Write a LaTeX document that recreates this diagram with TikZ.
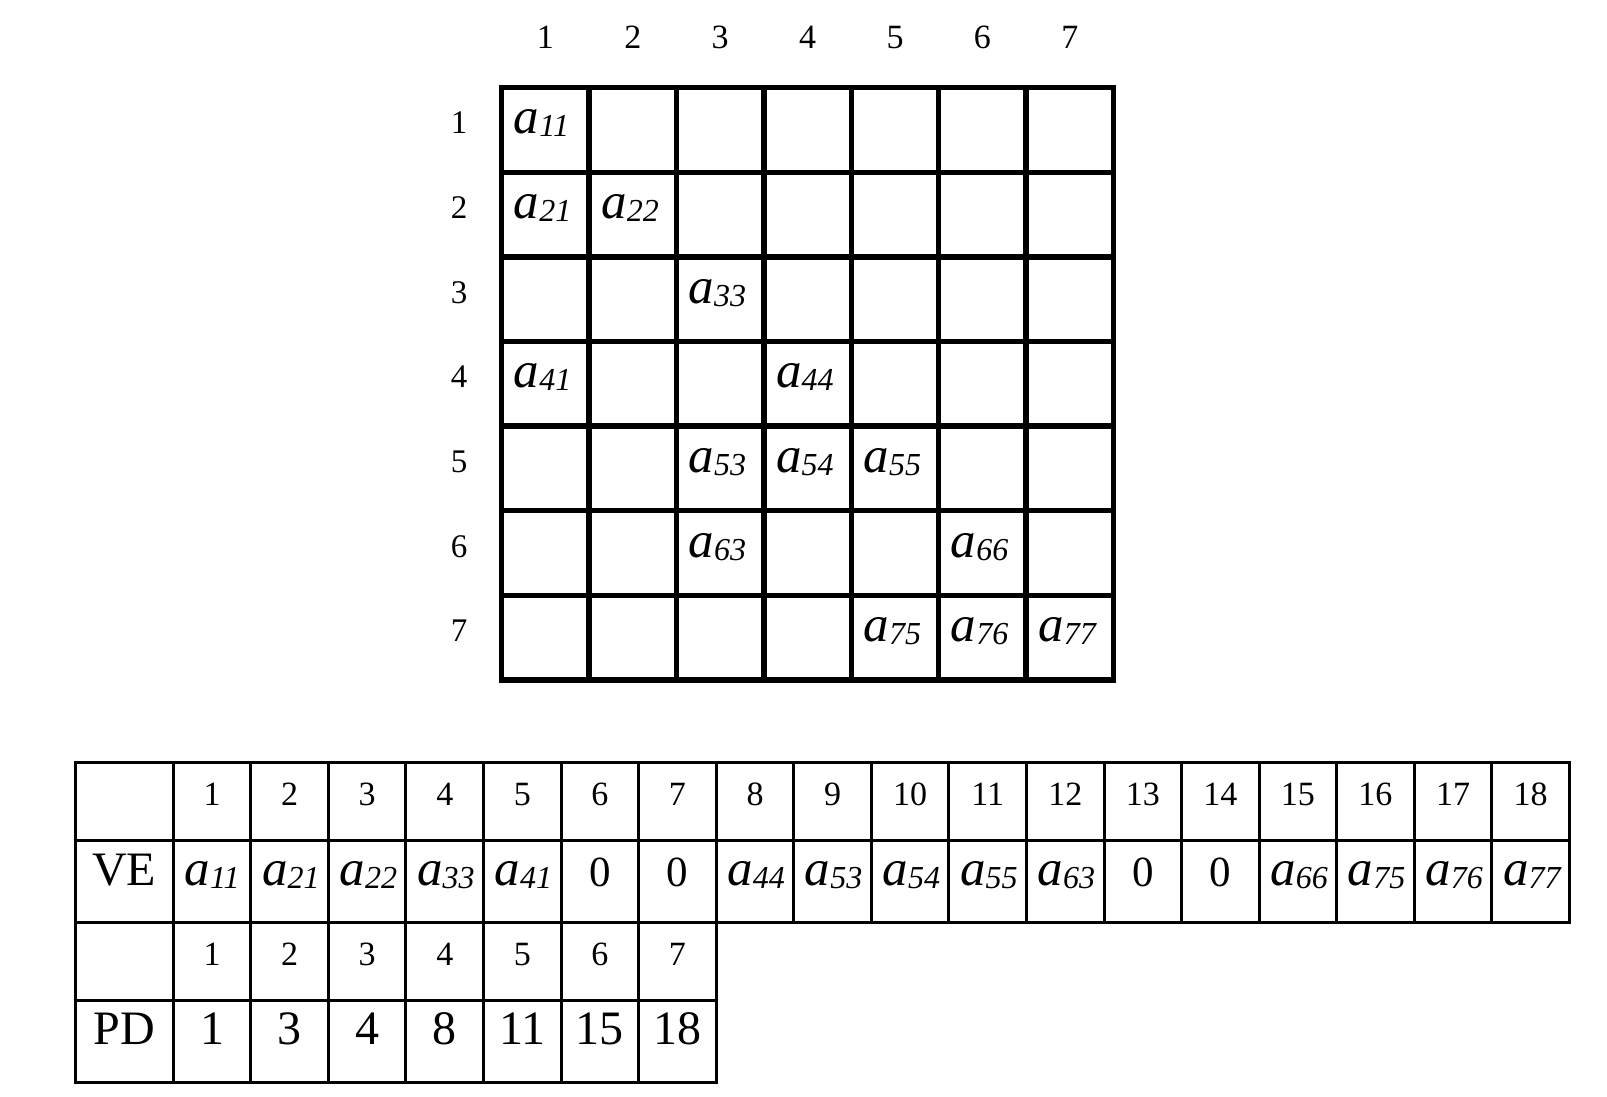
\documentclass[tikz,border=0pt]{standalone}
\usepackage{fontspec}
\setmainfont{Liberation Serif}
\newcommand{\ael}[1]{{\fontsize{51}{51}\selectfont\itshape a}\raisebox{-3pt}{\fontsize{32}{32}\selectfont\itshape #1}}
\begin{document}
\begin{tikzpicture}[x=1pt,y=-1pt,
  txt/.style={inner sep=0pt, anchor=base},
  ent/.style={inner sep=0pt, anchor=base west},
  thickgrid/.style={line width=5.5pt, line cap=rect},
  thingrid/.style={line width=3pt, line cap=rect},
  lbl/.style={txt, font=\fontsize{34}{34}\selectfont},
  rlbl/.style={txt, font=\fontsize{33}{33}\selectfont},
  big/.style={txt, font=\fontsize{48}{48}\selectfont},
  zero/.style={txt, font=\fontsize{43}{43}\selectfont}]
\fill[white] (0,0) rectangle (1607,1097);
\useasboundingbox (0,0) rectangle (1607,1097);
% ---------- top grid ----------
\def\gx{501.7}\def\gdx{87.4}\def\gy{87.7}\def\gdy{84.6}
\foreach \i in {0,...,7} {
  \draw[thickgrid] ({\gx+\i*\gdx},\gy) -- ({\gx+\i*\gdx},{\gy+7*\gdy});
  \draw[thickgrid] (\gx,{\gy+\i*\gdy}) -- ({\gx+7*\gdx},{\gy+\i*\gdy});
}
\foreach \i in {1,...,7} {
  \node[lbl] (ch\i) at ({\gx+(\i-0.5)*\gdx},48.3) {\i};
  \node[rlbl] (rl\i) at (459,{\gy+(\i-0.5)*\gdy+4}) {\i};
}
\foreach \r/\c in {1/1,2/1,2/2,3/3,4/1,4/4,5/3,5/4,5/5,6/3,6/6,7/5,7/6,7/7}
  \node[ent] (m\r\c) at ({\gx+(\c-1)*\gdx+12},{\gy+(\r-0.5)*\gdy+4}) {\ael{\r\c}};
% ---------- bottom table ----------
\def\bx{173.3}\def\bdx{77.56}
\foreach \yy in {762.7,840,922.7}
  \draw[thingrid] (75,\yy) -- (1569.3,\yy);
\foreach \yy in {1000.7,1082.3}
  \draw[thingrid] (75,\yy) -- (716.2,\yy);
\draw[thingrid] (75,762.7) -- (75,1082.3);
\foreach \k in {0,...,7}
  \draw[thingrid] ({\bx+\k*\bdx},762.7) -- ({\bx+\k*\bdx},1082.3);
\foreach \k in {8,...,18}
  \draw[thingrid] ({\bx+\k*\bdx},762.7) -- ({\bx+\k*\bdx},922.7);
\foreach \k in {1,...,18}
  \node[lbl] (hd\k) at ({\bx+(\k-0.5)*\bdx},805) {\k};
\node[big] (ve) at (124.15,885) {VE};
\foreach \k/\v in {1/11,2/21,3/22,4/33,5/41,8/44,9/53,10/54,11/55,12/63,15/66,16/75,17/76,18/77}
  \node[ent] (ve\k) at ({\bx+(\k-1)*\bdx+11},885) {\ael{\v}};
\foreach \k in {6,7,13,14}
  \node[zero] (ve\k) at ({\bx+(\k-0.5)*\bdx},886) {0};
\foreach \k in {1,...,7}
  \node[lbl] (ix\k) at ({\bx+(\k-0.5)*\bdx},965) {\k};
\node[big] (pd) at (124.15,1044) {PD};
\foreach \k/\v in {1/1,2/3,3/4,4/8,5/11,6/15,7/18}
  \node[big] (pd\k) at ({\bx+(\k-0.5)*\bdx},1044) {\v};
\end{tikzpicture}
\end{document}
